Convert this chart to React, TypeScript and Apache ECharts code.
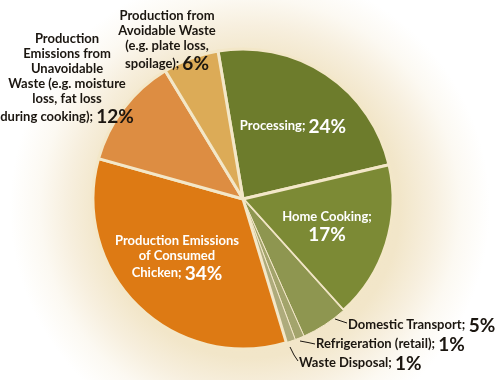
import React, { useEffect, useRef } from "react";
import * as echarts from "echarts";

const categories = [
  "Processing",
  "Home Cooking",
  "Domestic Transport",
  "Refrigeration (retail)",
  "Waste Disposal",
  "Production Emissions of Consumed Chicken",
  "Production Emissions from Unavoidable Waste (e.g. moisture loss, fat loss during cooking)",
  "Production from Avoidable Waste (e.g. plate loss, spoilage)",
];
const values = [24, 17, 5, 1, 1, 34, 12, 6];
const labelTexts = [
  "Processing;",
  "Home Cooking;",
  "Domestic Transport;",
  "Refrigeration (retail);",
  "Waste Disposal;",
  "Production Emissions\nof Consumed\nChicken;",
  "Production\nEmissions from\nUnavoidable\nWaste (e.g. moisture\nloss, fat loss\nduring cooking);",
  "Production from\nAvoidable Waste\n(e.g. plate loss,\nspoilage);",
];
const colors = ["#6d7c2c", "#7c8a35", "#8e9650", "#a3a46c", "#aeab7c", "#dd7a14", "#dd8d42", "#dcab57"];
const inside = [true, true, false, false, false, true, false, false];

// label layout (positions of label boxes, not data)
const labelPos: any[] = [
  { x: 293, y: 125, align: "center" },
  { x: 327, y: 226, align: "center" },
  { x: 348, y: 324, align: "left", line: [[335, 319], [341, 321], [347, 323]] },
  { x: 316, y: 343, align: "left", line: [[300, 341], [308, 342.5], [315, 344]] },
  { x: 299, y: 362, align: "left", line: [[290, 347], [294, 355], [298, 361]] },
  { x: 177, y: 257, align: "center" },
  { x: 67, y: 78, align: "center" },
  { x: 167, y: 40, align: "center" },
];

export default function App() {
  const ref = useRef<HTMLDivElement>(null);
  useEffect(() => {
    if (!ref.current) return;
    const chart = echarts.init(ref.current, undefined, { renderer: "svg" });
    const formatter = (p: any) => {
      const i = p.dataIndex;
      const sep = i === 1 ? "\n" : " ";
      return "{t|" + labelTexts[i].split("\n").join("}\n{t|") + "}" + sep + "{p|" + values[i] + "%}";
    };
    const data = categories.map((name, i) => {
      const c = inside[i] ? "#ffffff" : "#1b1610";
      return {
        name,
        value: values[i],
        itemStyle: { color: colors[i], borderWidth: i >= 2 && i <= 4 ? 1 : 3 },
        label: {
          formatter,
          color: c,
          rich: {
            t: { fontSize: 13, fontWeight: "bold", fontFamily: "Lato", color: c, lineHeight: 15 },
            p: { fontSize: 19, fontWeight: "bold", fontFamily: "Lato", color: c, lineHeight: 20 },
          },
        },
        labelLine: { show: !!labelPos[i].line },
      };
    });
    chart.setOption({
      animation: false,
      series: [
        {
          type: "pie",
          center: [243, 199],
          radius: 150,
          startAngle: 99.6,
          clockwise: true,
          avoidLabelOverlap: false,
          data,
          itemStyle: { borderColor: "#f3e7c8", borderWidth: 3 },
          label: {
            show: true,
            position: "outside",
            fontFamily: "Lato",
            fontWeight: "bold",
            fontSize: 13,
            align: "center",
          },
          labelLine: { show: true, lineStyle: { color: "#1b1610", width: 1 } },
          labelLayout: (params: any) => {
            const lp = labelPos[params.dataIndex];
            const r: any = { x: lp.x, y: lp.y, align: lp.align, verticalAlign: "middle" };
            if (lp.line) r.labelLinePoints = lp.line;
            return r;
          },
          emphasis: { disabled: true },
        },
      ],
    });
    return () => chart.dispose();
  }, []);
  return (
    <div
      ref={ref}
      style={{
        position: "fixed",
        left: 0,
        top: 0,
        width: 503,
        height: 380,
        background:
          "radial-gradient(circle at 250px 208px, #f1e3c4 0px, #f2e6c9 150px, #f7efde 182px, #fcf9f2 210px, #ffffff 240px)",
      }}
    />
  );
}
